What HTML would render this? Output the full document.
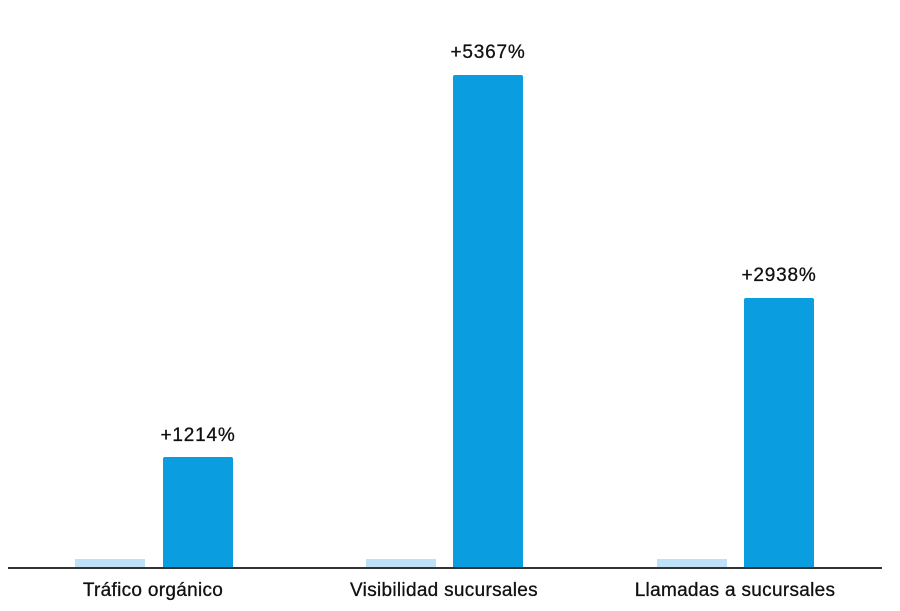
<!DOCTYPE html>
<html><head><meta charset="utf-8"><style>
body{margin:0;background:#fff;width:900px;height:611px;overflow:hidden;position:relative;font-family:"Liberation Sans",sans-serif;color:#111}
.b{position:absolute;background:#0a9de0;border-radius:2px 2px 0 0}
.l{position:absolute;background:#bfe1f7;height:8px;top:559px;width:70px}
.t{position:absolute;font-size:19px;letter-spacing:0.3px;text-align:center;width:300px;-webkit-text-stroke:0.3px #111}
.v{position:absolute;font-size:19px;letter-spacing:0.8px;text-align:center;width:120px;-webkit-text-stroke:0.3px #111}
</style></head><body>
<div style="position:absolute;left:8px;top:567px;width:874px;height:1.5px;background:#333"></div>
<div class="l" style="left:75px"></div>
<div class="b" style="left:163px;top:457px;width:70px;height:110px"></div>
<div class="l" style="left:366px"></div>
<div class="b" style="left:453px;top:75px;width:70px;height:492px"></div>
<div class="l" style="left:657px"></div>
<div class="b" style="left:744px;top:298px;width:70px;height:269px"></div>
<div class="v" style="left:138px;top:425px">+1214%</div>
<div class="v" style="left:428px;top:42px">+5367%</div>
<div class="v" style="left:719px;top:265px">+2938%</div>
<div class="t" style="left:3px;top:580px">Tráfico orgánico</div>
<div class="t" style="left:294px;top:580px">Visibilidad sucursales</div>
<div class="t" style="left:585px;top:580px">Llamadas a sucursales</div>
</body></html>
